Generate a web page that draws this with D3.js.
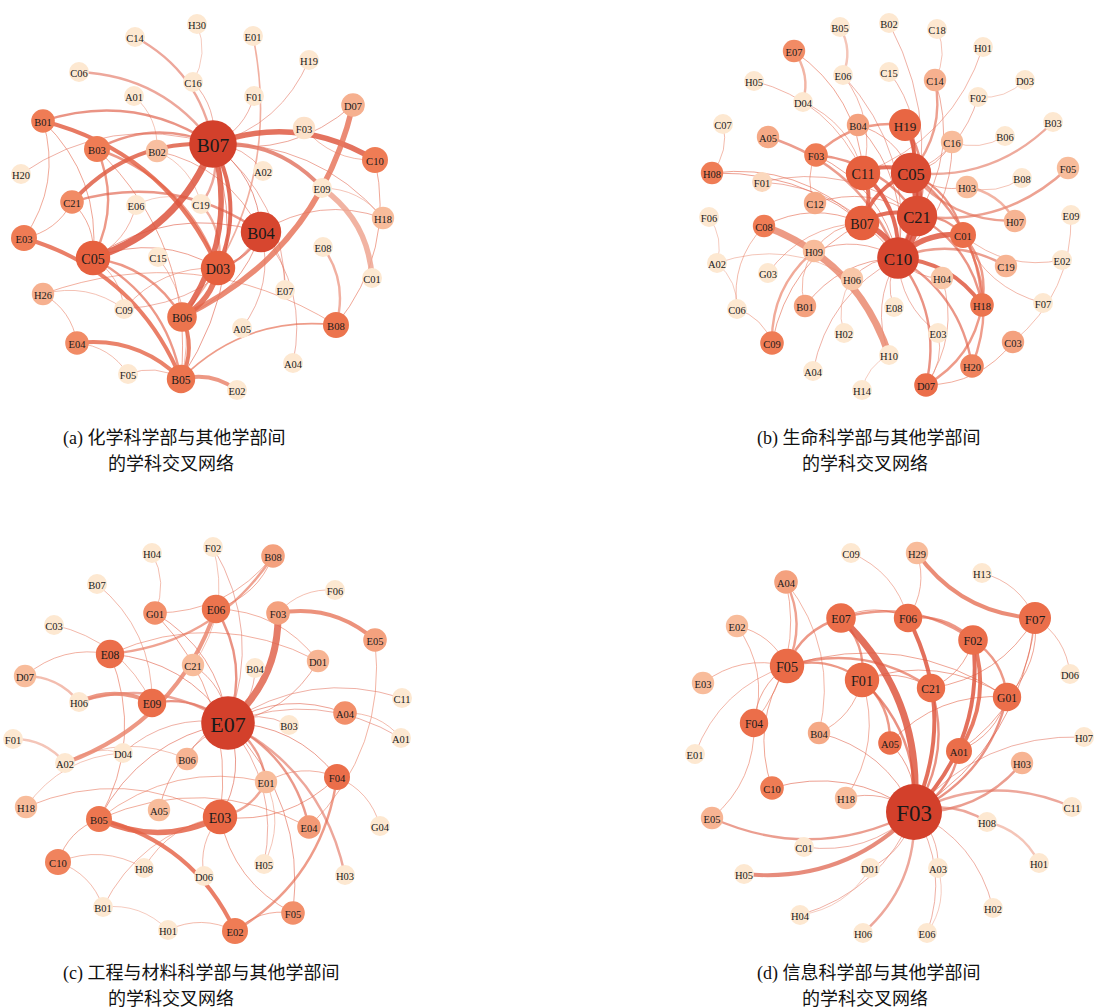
<!doctype html>
<html>
<head>
<meta charset="utf-8">
<style>
    body { margin: 0; background: #fff; }
    svg { display: block; }
    text.node-label {
        font-family: 'Liberation Serif', 'Noto Sans CJK SC', serif;
        fill: #1a1a1a;
        text-anchor: middle;
        dominant-baseline: central;
    }
    text.caption {
        font-family: 'Liberation Serif', 'Noto Sans CJK SC', serif;
        font-size: 18px;
        fill: #111;
    }
</style>
<script src="https://d3js.org/d3.v7.min.js"></script>
</head>
<body>
<svg width="1094" height="1008"></svg>
<script>
// node: [name, layout x, layout y, degree, strength]
const nodesA = [
    ["H30",197,24,1,1],["C14",135,37,1,1],["E01",253,36,1,1],["H19",309,60,1,1],
    ["C06",79,72,1,1],["C16",193,82,1,1],["A01",134,96,1,1],["F01",254,96,1,1],
    ["D07",353,105,4,2.6],["B01",43,121,4,4],["F03",304,128,3,1.2],["B07",213,144,24,6],
    ["B03",97,149,6,4],["B02",157,151,3,2.2],["C10",375,160,6,4],["H20",21,174,1,1],
    ["A02",263,171,1,1],["E09",322,188,1,1],["C21",72,202,4,3.6],["E06",136,205,1,1],
    ["C19",201,204,1,1],["B04",261,232,18,5.8],["H18",383,218,3,2.3],["E03",24,238,6,4],
    ["E08",323,247,1,1],["C05",93,258,13,5],["C15",158,257,1,1],["D03",218,268,13,5],
    ["C01",372,278,1,1],["H26",43,294,3,2.6],["E07",285,290,1,1],["C09",124,309,1,1],
    ["B06",182,317,9,4.3],["A05",242,328,1,1],["B08",336,325,6,4.3],["E04",77,343,4,3.6],
    ["A04",293,363,1,1],["F05",128,374,1,1],["B05",181,379,8,4.3],["E02",237,390,1,1]
];
const edgesA = [
    ["B07","C05",5],["B07","D03",3],["B07","B06",4],["B07","C10",4],["B07","E09",3],["C21","B07",3],
    ["C14","B07",2],["C06","B07",2],["C16","B07",1],["E01","B06",1.5],["H19","B07",1],["F01","B07",1],
    ["D07","B07",1],["B03","B07",2],["B01","B07",2],["H20","B07",1],["B07","B04",1],["B07","A02",1],
    ["B07","H18",1],["B07","B05",1],["B07","C19",2],["B07","E07",1],["D07","B06",4],["E09","C01",4],
    ["B01","D03",3],["B03","C05",2],["B03","B05",1],["B03","D03",2],["B01","E03",1],["B01","C05",1],
    ["C21","B04",2],["C21","E03",1],["C21","C05",1],["C05","B06",2],["C05","B05",2],["C05","D03",1],
    ["C05","B04",1],["C05","C09",1],["E03","B05",3],["E04","B05",3],["E04","F05",1],["F05","B05",1],
    ["H26","E04",1],["B06","B05",3],["B05","E02",3],["B05","B08",1.5],["E08","B08",2],["H26","B08",1],
    ["D03","B06",4],["B04","D03",2],["B04","B06",1],["B04","E07",1],["B04","A04",1],["B04","A05",1],
    ["B04","H18",1],["B04","C09",1],["C19","D03",2],["C15","B05",1],["E06","C05",1],["C09","D03",1],
    ["B02","C19",1],["B02","B04",1],["A01","B02",1],["H30","C16",1],["C10","B08",1],["E09","H18",1],
    ["C10","F03",1],["H26","C09",1],["E06","C19",1]
];

const nodesB = [
    ["B05",150,27,1,1],["B02",199,23,1,1],["C18",247,29,1,1],["E07",104,51,3,3.6],
    ["H01",293,47,1,1],["E06",153,75,1,1],["C15",199,72,1,1],["H05",64,81,1,1],
    ["C14",245,80,3,2.6],["D03",335,80,1,1],["D04",113,102,1,1],["F02",288,97,1,1],
    ["C07",33,124,1,1],["B04",168,125,3,3],["H19",215,125,11,4.8],["B03",363,122,1,1],
    ["A05",78,137,3,2.8],["B06",315,136,1,1],["C16",262,142,3,2.3],["F03",126,155,4,4],
    ["F05",378,168,3,2.3],["H08",22,173,3,4],["F01",72,182,1,1.5],["C11",173,173,13,5],
    ["C05",221,173,18,5.6],["B08",332,178,1,1],["H03",277,187,3,2.3],["C12",125,203,3,2.8],
    ["F06",19,217,1,1],["C08",74,226,3,4],["B07",172,223,13,5],["C21",227,216,18,5.6],
    ["H07",325,221,3,2.5],["E09",381,215,1,1],["C01",273,235,6,4.5],["H09",124,251,3,2.3],
    ["A02",27,263,1,1],["C10",208,258,19,5.8],["G03",78,273,1,1],["C19",316,266,3,2.5],
    ["E02",372,260,1,1],["H06",162,279,3,2],["H04",252,278,3,2],["B01",115,306,3,3],
    ["E08",204,307,1,1],["H18",292,305,4,4.3],["F07",353,303,1,1],["C06",47,309,1,1],
    ["H02",154,333,1,1],["E03",248,333,1,1],["C03",323,342,3,3],["C09",82,343,4,4],
    ["H10",199,355,1,1],["A04",123,371,1,1],["H20",282,366,4,3.8],["D07",236,385,4,4.5],
    ["H14",172,390,1,1]
];
const edgesB = [
    ["C05","C21",4],["C05","C10",4],["C11","C05",3],["H19","C05",3],["B07","C05",3],["C21","C10",4],
    ["B07","C21",3],["B07","C10",4],["C11","B07",3],["C11","C10",3],["C10","C01",4],["C21","C01",2],
    ["C05","C01",2],["C08","H10",5],["C10","H18",3],["C10","C19",2],["C10","H20",2],["C05","H18",2],
    ["C01","H18",2],["C01","H20",2],["C21","H18",2],["C10","D07",2],["H04","D07",1],["H18","D07",2],
    ["E03","D07",1],["H06","C10",1],["H09","C10",1],["B01","C10",1],["E08","C10",1],["H10","C10",1],
    ["A04","C10",1],["H04","C10",1],["E03","C10",1],["C09","H09",2],["C09","B07",1],["F06","A02",1],
    ["A02","C06",1],["A02","H06",1],["C06","C09",1],["C06","C08",1],["C07","H08",1],["H08","C10",1],
    ["H08","B07",1],["F01","C10",1],["F01","C21",1],["A05","C10",2],["H05","C11",1],["E07","D04",2],
    ["D04","C11",1],["E07","C11",1],["B05","E06",2],["E06","C11",1],["E06","C10",1],["B02","C10",1],
    ["C15","C05",1],["C18","C14",1],["C14","C05",2],["C14","C21",1],["H01","C11",1],["D03","F02",1],
    ["F02","C05",1],["B03","C05",2],["B06","C16",1],["C16","C05",1],["C16","C10",1],["F05","C21",2],
    ["B08","H03",1],["H03","C05",1],["H03","H07",2],["H07","C05",2],["E09","C03",1],["C03","D07",1],
    ["E02","C01",1],["F07","C01",1],["C12","C21",1],["C12","F03",1],["F03","C21",2],["F03","H19",2],
    ["B04","C10",1],["B04","C05",1],["H19","C10",2],["H19","C21",2],["G03","B07",1],["H02","H06",1],
    ["H14","H10",1],["B01","H09",1],["C08","B07",1],["F03","C10",1],["H09","B07",1]
];

const nodesC = [
    ["F02",213,17,1,1],["H04",152,23,1,1],["B08",273,26,4,3],["B07",97,54,1,1],
    ["F06",335,60,1,1],["G01",155,83,4,3.5],["E06",216,79,8,4.3],["F03",278,83,4,3],
    ["C03",54,95,1,1],["E05",375,110,4,3],["E08",110,124,8,4.5],["D01",318,131,3,2.5],
    ["C21",193,135,3,2.3],["D07",25,146,3,2.3],["B04",255,138,1,1],["C11",402,168,1,1],
    ["H06",79,172,1,1],["E09",152,173,8,4.5],["E07",228,193,29,6],["A04",345,183,4,3.5],
    ["B03",289,195,1,1],["F01",13,209,1,1],["A02",65,233,1,1],["D04",123,223,1,1],
    ["B06",187,229,3,2.5],["A01",401,208,1,1],["E01",266,252,3,2.3],["F04",337,247,6,4.5],
    ["H18",26,277,3,2.3],["A05",159,280,3,2.3],["B05",99,289,6,4.2],["E03",220,287,13,4.8],
    ["E04",309,297,4,3.2],["G04",380,296,1,1],["C10",58,332,6,3.8],["H08",144,338,1,1],
    ["D06",204,346,1,1],["H05",264,334,1,1],["H03",345,345,1,1],["B01",103,377,1,1],
    ["F05",293,383,4,3.5],["H01",168,400,1,1],["E02",235,401,6,4]
];
const edgesC = [
    ["F03","E07",5],["E06","E07",2],["G01","E07",1],["E08","E07",1],["E09","E07",2],["C21","E07",1],
    ["B04","E07",1],["D01","E07",1],["E07","C11",1],["E07","A04",1],["E07","B03",1],["E07","F04",1],
    ["E07","E04",2],["E07","H03",2],["E07","F05",1],["E07","E01",2],["E07","E03",1],["A05","E07",1],
    ["B06","E07",1],["H06","E07",2],["B05","E07",1],["E07","H05",1],["E07","A01",1],["D04","E07",1],
    ["E06","A02",3],["B08","E08",2],["B08","G01",1],["F03","E05",3],["F03","F06",1],["H06","E09",3],
    ["D07","H06",2],["F01","A02",2],["A02","D04",1],["A02","B06",1],["C03","E09",1],["H04","G01",1],
    ["F02","C21",1],["E08","D01",1],["D07","E08",1],["G01","E03",1],["E01","F04",1],["E01","H05",1],
    ["E01","E03",2],["B05","E01",1],["F04","E02",2],["F04","G04",1],["F04","E03",1],["E02","F05",1],
    ["F05","E03",1],["C10","H08",1],["C10","B05",1],["C10","B01",1],["B01","H01",1],["H01","E02",1],
    ["B01","E03",1],["H18","E03",1],["H18","D04",1],["D06","E03",1],["H08","E03",1],["B05","E04",1],
    ["E03","B05",4],["B05","E02",3],["B07","E09",1],["E05","E04",1],["A04","A01",1],["B08","E06",1],
    ["F02","E07",1],["E08","B05",1],["E06","D01",1]
];

const nodesD = [
    ["C09",171,13,1,1],["H29",237,13,3,2.3],["H13",302,33,1,1],["A04",106,42,4,3],
    ["E07",161,78,9,4.5],["F06",228,78,8,4.5],["F07",355,78,11,4.5],["E02",57,86,3,2.3],
    ["F02",293,100,9,4.5],["F05",107,126,13,4.6],["D06",390,134,1,1],["E03",23,143,3,2.3],
    ["F01",182,140,13,4.6],["C21",251,148,8,4.5],["G01",327,157,8,4.5],["F04",74,183,8,4.5],
    ["H07",404,197,1,1],["B04",139,193,3,2.8],["E01",15,214,1,1],["A05",210,203,4,4.5],
    ["A01",279,211,6,4.5],["H03",342,223,3,2.5],["C10",92,248,4,4],["H18",166,258,3,2.3],
    ["F03",234,272,31,6],["C11",392,267,1,1],["E05",32,278,3,2.5],["H08",307,282,1,1],
    ["C01",124,307,1,1],["H05",64,334,1,1],["D01",190,328,1,1],["A03",258,328,1,1],
    ["H01",359,323,1,1],["H02",313,368,1,1],["H04",120,375,1,1],["H06",183,393,1,1],
    ["E06",247,393,1,1]
];
const edgesD = [
    ["E07","F03",5],["C21","F03",2],["F06","F03",3],["F02","F03",3],["A01","F03",2],["G01","F03",2],
    ["F01","F03",2],["A05","F03",1],["F07","F03",1],["H03","F03",2],["F03","C11",2],["F03","H08",2],
    ["F03","H02",1],["F03","A03",1],["F03","E06",1],["F03","H06",2],["F03","D01",1],["F03","H04",1],
    ["F03","H05",3],["F03","C01",1],["F03","E05",2],["H18","F03",1],["B04","F03",1],["C10","F03",1],
    ["F05","E07",2],["E07","F01",2],["E07","F02",2],["E07","F06",1],["F05","C21",2],["F05","F01",2],
    ["A04","F05",2],["E02","F05",1],["E03","F05",1],["F04","F05",1],["F05","G01",1],["F07","H29",3],
    ["H29","F06",1],["C09","F06",1],["H13","F07",1],["F07","D06",1],["F07","G01",1],["F07","C21",1],
    ["F07","A01",1],["F02","G01",2],["F06","F02",2],["F02","A01",3],["F02","C21",1],["F01","A05",2],
    ["F01","H18",1],["F01","B04",1],["F01","G01",1],["G01","A01",1],["F03","H07",1],["A04","F04",1],
    ["E02","F04",1],["E01","F05",1],["F04","E05",1],["C10","F05",1],["H08","H01",2],["A03","E06",1],
    ["D01","H04",1],["F01","C21",1],["A04","B04",1],["A05","G01",1]
];

const captions = [
    ["(a) 化学科学部与其他学部间", "的学科交叉网络"],
    ["(b) 生命科学部与其他学部间", "的学科交叉网络"],
    ["(c) 工程与材料科学部与其他学部间", "的学科交叉网络"],
    ["(d) 信息科学部与其他学部间", "的学科交叉网络"]
];

const svg = d3.select('svg');
svg.append('rect').attr('width', 1094).attr('height', 1008).attr('fill', '#fff');

// shared scales
const rScale = d3.scaleLinear().domain([1, 31]).range([10, 28]);
const colorScale = d3.scaleLinear()
    .domain([1, 2, 3, 4, 5, 6])
    .range(['#fde8d1', '#f9c7a8', '#f4a17e', '#ef7c55', '#e6603e', '#d3402b'])
    .clamp(true);
const wScale = d3.scaleLinear().domain([1, 5]).range([0.9, 7]);

const panels = [
    { nodes: nodesA, edges: edgesA, ox: 0, oy: 0, cx: 63, cy: 444 },
    { nodes: nodesB, edges: edgesB, ox: 690, oy: 0, cx: 757, cy: 444 },
    { nodes: nodesC, edges: edgesC, ox: 0, oy: 530, cx: 63, cy: 979 },
    { nodes: nodesD, edges: edgesD, ox: 680, oy: 540, cx: 757, cy: 979 }
];

panels.forEach((p, i) => {
    const x = d3.scaleLinear().domain([0, 400]).range([p.ox, p.ox + 400]);
    const y = d3.scaleLinear().domain([0, 400]).range([p.oy, p.oy + 400]);

    const nodes = p.nodes.map(n => ({ id: n[0], x: x(n[1]), y: y(n[2]), deg: n[3], str: n[4] }));
    const byId = new Map(nodes.map(n => [n.id, n]));
    const links = p.edges
        .map(e => ({ s: byId.get(e[0]), t: byId.get(e[1]), w: e[2] }))
        .filter(l => l.s && l.t)
        .sort((a, b) => a.w - b.w);

    const g = svg.append('g');

    // gephi-like clockwise curved edges
    const curve = (l) => {
        const dx = l.t.x - l.s.x, dy = l.t.y - l.s.y;
        const k = 0.24;
        const path = d3.path();
        path.moveTo(l.s.x, l.s.y);
        path.quadraticCurveTo((l.s.x + l.t.x) / 2 + dy * k, (l.s.y + l.t.y) / 2 - dx * k, l.t.x, l.t.y);
        return path.toString();
    };

    const linkColor = (l) => {
        const mix = d3.interpolateRgb(colorScale(l.s.str), colorScale(l.t.str))(0.5);
        return d3.interpolateRgb(mix, '#dc5646')(0.45);
    };

    g.append('g').selectAll('path')
        .data(links)
        .enter()
        .append('path')
        .attr('d', curve)
        .attr('fill', 'none')
        .attr('stroke', linkColor)
        .attr('stroke-opacity', l => l.w >= 3 ? 0.85 : 0.65)
        .attr('stroke-width', l => wScale(l.w));

    const ng = g.append('g').selectAll('g')
        .data(nodes)
        .enter()
        .append('g');

    ng.append('circle')
        .attr('cx', n => n.x)
        .attr('cy', n => n.y)
        .attr('r', n => rScale(n.deg))
        .attr('fill', n => colorScale(n.str));

    ng.append('text')
        .attr('class', 'node-label')
        .attr('x', n => n.x)
        .attr('y', n => n.y + 1)
        .style('font-size', n => Math.max(10.5, rScale(n.deg) * 0.82) + 'px')
        .text(n => n.id);

    const cap = svg.append('text').attr('class', 'caption');
    cap.append('tspan').attr('x', p.cx).attr('y', p.cy).text(captions[i][0]);
    cap.append('tspan').attr('x', p.cx + 45).attr('y', p.cy + 26).text(captions[i][1]);
});
</script>
</body>
</html>
